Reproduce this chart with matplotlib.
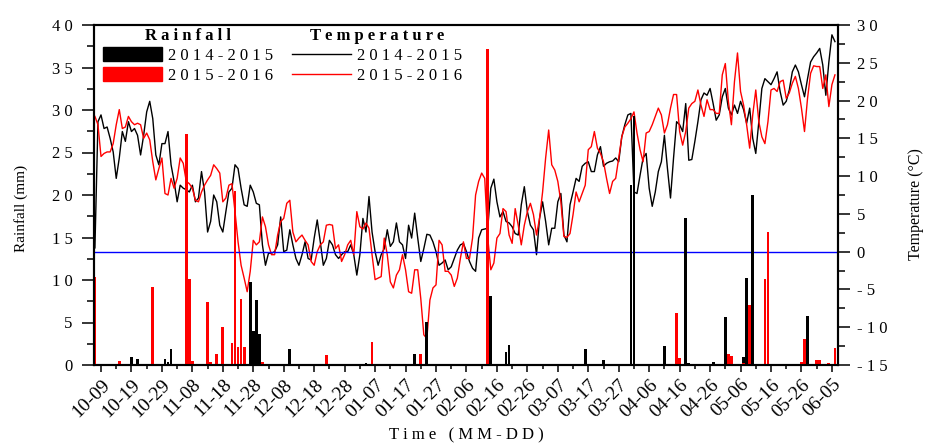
import numpy as np
import matplotlib
matplotlib.use("Agg")
import matplotlib.pyplot as plt
from matplotlib.patches import Patch
from matplotlib.lines import Line2D
from matplotlib.ticker import MultipleLocator

plt.rcParams['font.family'] = ['Liberation Serif', 'DejaVu Serif']

# x is days counted from 10-09; daily series start at 10-07 (day -2)
first_day = -2
tick_labels = ["10-09", "10-19", "10-29", "11-08", "11-18", "11-28", "12-08", "12-18",
               "12-28", "01-07", "01-17", "01-27", "02-06", "02-16", "02-26", "03-07",
               "03-17", "03-27", "04-06", "04-16", "04-26", "05-06", "05-16", "05-26", "06-05"]

# daily mean temperature (C)
temp_1415 = [
    0.5, 17.2, 18.1, 16.3, 16.5, 15.0, 13.2, 9.7, 12.4, 15.9, 14.6, 17.2, 15.9, 16.3, 15.4, 12.8,
    15.4, 18.5, 19.9, 17.6, 12.8, 11.5, 14.3, 14.3, 15.9, 11.5, 9.3, 6.6, 8.8, 8.4, 8.2, 7.9,
    8.8, 6.6, 7.1, 10.6, 7.9, 2.6, 4.0, 7.5, 6.6,
    3.5, 2.6, 5.3, 7.9, 8.4, 11.5, 11.0, 8.4, 6.2, 6.0, 8.8, 7.9, 6.4, 6.2, 0.9, -1.8,
    -0.2, -0.2, 0.0, 0.9, 4.6, 0.0, 0.2, 2.9, 0.9, -0.9, -1.8, -0.4, 1.3, -0.9, -1.1, 1.8,
    4.2, 1.3, -1.8, -0.9, 1.5, 0.9, -0.4, -0.9, -0.4, 0.0,
    0.0, 0.9, -0.4, -3.1, -0.4, 4.4, 2.6, 7.3, 2.6, 0.0, -1.8, -0.4, 0.4, 2.9, 0.7, 1.3,
    3.8, 1.3, 0.9, -0.9, 3.5, 1.8, 5.1, 1.8, -1.3, 0.4, 2.3, 2.2, 1.3, 0.0, -1.8, -1.5,
    -1.1, -2.4, -2.0, -0.9, 0.2, 0.9, 1.1, 0.0,
    -1.3, -2.2, -2.6, 1.8, 2.9, 3.0, 3.1, 8.4, 9.6, 6.6, 4.6, 5.3, 4.0, 3.8, 3.3, 2.4,
    2.2, 6.2, 8.6, 5.3, 3.5, 2.9, -0.4, 4.4, 6.6, 4.0, 0.9, 3.1, 3.1, 6.6, 7.7, 2.2,
    1.3, 6.2, 7.9, 9.7, 9.3, 11.3, 11.7, 11.9, 10.6,
    10.6, 12.8, 13.9, 11.3, 11.7, 11.9, 12.0, 12.4, 11.9, 15.2, 16.8, 18.1, 18.3, 7.9, 7.7, 10.1,
    12.4, 13.0, 8.4, 6.0, 7.9, 10.6, 11.9, 15.4, 11.0, 7.1, 12.4, 17.2, 16.8, 15.9, 19.6, 12.1,
    12.2, 14.6, 17.2, 20.1, 21.0, 20.7, 21.6, 19.6, 17.4,
    18.1, 20.5, 21.6, 19.0, 18.1, 19.4, 18.3, 19.9, 18.8, 17.0, 19.0, 15.0, 13.0, 17.2, 21.6, 22.9,
    22.5, 22.1, 22.9, 23.8, 21.2, 19.4, 19.9, 21.4, 23.8, 24.7, 23.8, 22.1, 20.5, 22.9, 25.1, 25.8,
    26.3, 26.9, 24.7, 20.7, 25.1, 28.7, 27.8]
temp_1516 = [
    17.9, 16.8, 12.6, 13.0, 13.2, 13.2, 14.3, 16.8, 18.8, 16.3, 16.5, 17.9, 17.2, 16.8, 17.0, 16.8,
    15.0, 15.7, 14.8, 11.9, 9.5, 11.0, 12.4, 7.7, 7.5, 9.7, 8.4, 9.7, 12.4, 11.7, 9.3, 9.0,
    8.4, 6.8, 6.6, 7.9, 8.8, 9.5, 10.1, 11.5, 11.0,
    10.4, 6.6, 7.1, 8.8, 9.0, 5.3, 1.3, -1.8, -3.5, -5.3, -2.6, 1.5, 0.9, 1.3, 4.6, 3.3,
    0.9, -0.4, -0.4, 2.2, 4.0, 4.4, 6.4, 6.8, 2.6, 1.3, 1.8, 2.2, 1.5, 0.9, -1.3, -1.8,
    0.0, 0.9, 1.3, 3.5, 3.6, 3.5, 0.4, 0.9, -1.3, -0.4,
    0.9, 1.5, -0.4, 5.3, 3.3, 3.0, 3.8, 3.1, -0.4, -3.7, -3.5, -3.3, 1.8, -0.4, -4.0, -4.8,
    -3.1, -2.4, -0.4, -2.4, -5.3, -5.5, -2.4, -2.4, -6.2, -11.0, -11.5, -6.4, -4.8, -4.4, 1.5, 0.9,
    -2.6, -2.6, -3.1, -4.6, -3.5, -0.9, 1.3, -0.9,
    -0.9, 1.8, 7.5, 9.3, 10.4, 9.7, 1.8, -2.4, -1.5, 1.8, 2.4, 5.7, 5.3, 2.2, 1.1, 5.7,
    3.5, 0.9, 3.5, 5.3, 6.4, 4.9, 2.2, 4.4, 7.9, 12.4, 16.1, 11.5, 10.8, 9.3, 6.6, 2.0,
    1.9, 2.4, 4.9, 7.9, 6.6, 7.7, 8.8, 13.5, 13.9,
    15.9, 13.7, 13.0, 11.9, 9.7, 7.7, 9.3, 9.7, 12.4, 15.2, 16.5, 17.0, 17.6, 18.5, 15.7, 13.5,
    11.9, 15.7, 15.9, 16.8, 17.9, 19.0, 18.1, 15.7, 16.8, 19.0, 20.8, 20.8, 15.9, 14.1, 15.9, 19.0,
    19.6, 19.9, 21.4, 19.4, 17.9, 20.1, 18.8, 18.8, 18.3,
    18.3, 23.4, 24.9, 19.9, 16.8, 22.5, 26.3, 21.2, 19.4, 16.8, 13.7, 18.1, 21.4, 17.2, 15.2, 14.3,
    17.2, 21.4, 21.6, 21.2, 22.5, 22.7, 20.3, 21.0, 22.3, 23.2, 21.6, 19.0, 15.9, 20.3, 23.6, 24.6,
    24.5, 24.5, 21.6, 23.4, 19.2, 22.1, 23.4]

# rainy days (day index) and rainfall (mm)
rain_days_1415 = [10, 12, 21, 22, 23, 49, 50, 51, 52, 62, 87, 103, 107, 128, 133, 134, 159, 165,
                  174, 175, 185, 192, 193, 201, 205, 211, 212, 214, 232, 233]
rain_1415 = [0.9, 0.7, 0.7, 0.4, 1.9, 9.8, 4.0, 7.6, 3.7, 1.9, 0.2, 1.25, 5.1, 8.1, 1.5, 2.35, 1.9, 0.6,
             21.2, 29.3, 2.2, 17.3, 0.2, 0.35, 5.6, 1.0, 10.2, 20.0, 5.8, 0.15]
rain_days_1516 = [-2, 6, 17, 28, 29, 30, 35, 36, 38, 40, 43, 44, 45, 46, 47, 53, 74, 89, 105, 127,
                  189, 190, 206, 207, 211, 213, 218, 219, 230, 231, 235, 236, 239, 241]
rain_1516 = [10.3, 0.5, 9.2, 27.2, 10.1, 0.5, 7.4, 0.4, 1.25, 4.5, 2.55, 20.5, 2.15, 7.8, 2.1, 0.4,
             1.2, 2.7, 1.3, 37.2, 6.15, 0.8, 1.3, 1.1, 0.2, 7.05, 10.1, 15.6, 0.3, 3.1, 0.55, 0.6,
             0.25, 2.05]


def spaced(s):
    return " ".join(s)


days = np.arange(len(temp_1415)) + first_day

fig = plt.figure(figsize=(9.28, 4.43), dpi=100)
ax = fig.add_axes([94 / 928, 1 - 365 / 443, (838 - 94) / 928, (365 - 25) / 443])
ax2 = ax.twinx()

ax2.plot(days, temp_1415, color='black', lw=1.0)
ax2.plot(days, temp_1516, color='red', lw=1.0)
ax2.axhline(0, color='blue', lw=1.0)

ax.bar(rain_days_1415, rain_1415, width=0.9, color='black')
ax.bar(rain_days_1516, rain_1516, width=0.9, color='red')
ax.set_zorder(ax2.get_zorder() + 1)
ax.patch.set_visible(False)

ax.set_xlim(-2.3, 242)
ax.set_ylim(0, 40)
ax2.set_ylim(-15, 30)

ax.set_xticks(range(0, 241, 10), tick_labels, rotation=45, ha='right', rotation_mode='anchor')
ax.xaxis.set_minor_locator(MultipleLocator(5))
ax.set_yticks(range(0, 41, 5), [spaced(str(v)) for v in range(0, 41, 5)])
ax.yaxis.set_minor_locator(MultipleLocator(2.5))
ax2.set_yticks(range(-15, 31, 5), [spaced(str(v)) for v in range(-15, 31, 5)])
ax2.yaxis.set_minor_locator(MultipleLocator(2.5))

ax.tick_params(axis='y', which='major', direction='out', length=8.5, width=1.1, pad=7, labelsize=12)
ax.tick_params(axis='y', which='minor', direction='out', length=5, width=1.1)
ax.tick_params(axis='x', which='major', direction='out', length=5, width=1.1, pad=3, labelsize=14)
ax.tick_params(axis='x', which='minor', direction='out', length=3, width=1.1)
ax2.tick_params(axis='y', which='major', direction='out', length=8.5, width=1.1, pad=5, labelsize=12)
ax2.tick_params(axis='y', which='minor', direction='out', length=5, width=1.1)

for a in (ax, ax2):
    for sp in a.spines.values():
        sp.set_linewidth(1.5)

fig.text(21 / 928, 1 - 208 / 443, "Rainfall (mm)", rotation=90, ha='center', va='center', fontsize=11)
fig.text(916 / 928, 1 - 204 / 443, "Temperature (°C)", rotation=90, ha='center', va='center', fontsize=11.5)
fig.text(466 / 928, 1 - 435 / 443, spaced("Time (MM-DD)"), ha='center', va='center', fontsize=12)

leg_kw = dict(loc='upper left', bbox_transform=fig.transFigure, frameon=False, fontsize=12,
              borderpad=0, borderaxespad=0, handlelength=3.55, handleheight=0.9,
              handletextpad=0.35, labelspacing=0.2,
              title_fontproperties={'weight': 'bold', 'size': 12})
rain_handles = [Patch(color='black'), Patch(color='red')]
temp_handles = [Line2D([], [], color='black', lw=1.0), Line2D([], [], color='red', lw=1.0)]
season_labels = [spaced("2014-2015"), spaced("2015-2016")]
leg1 = ax.legend(rain_handles, season_labels, title=spaced("Rainfall"),
                 bbox_to_anchor=(103 / 928, 1 - 28 / 443), **leg_kw)
ax.add_artist(leg1)
ax.legend(temp_handles, season_labels, title=spaced("Temperature"),
          bbox_to_anchor=(292 / 928, 1 - 28 / 443), **leg_kw)

fig.savefig("out.png", dpi=100)
